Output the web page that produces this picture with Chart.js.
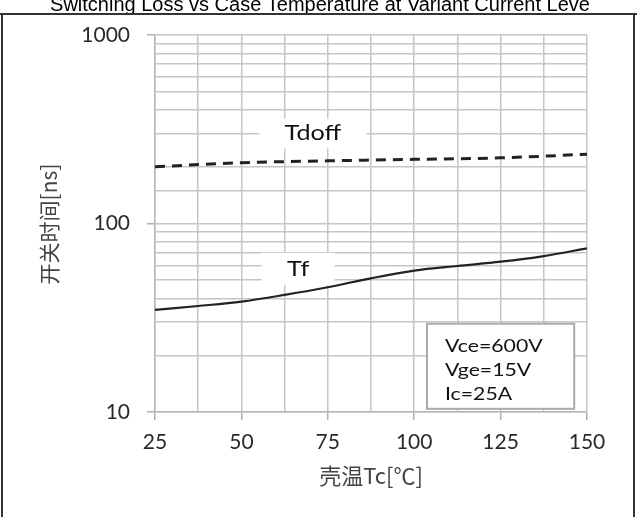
<!DOCTYPE html>
<html>
<head>
<meta charset="utf-8">
<script src="https://cdn.jsdelivr.net/npm/chart.js@4.4.1/dist/chart.umd.min.js"></script>
<style>
  html, body { margin: 0; padding: 0; background: #fff; }
  #wrap { width: 637px; height: 517px; position: relative; }
</style>
</head>
<body>
<div id="wrap"><canvas id="chart" width="637" height="517"></canvas></div>
<script>
// données
const chartTitle = 'Switching Loss vs Case Temperature at Variant Current Leve';
const tempsTf = [25, 37.5, 50, 62.5, 75, 87.5, 100, 112.5, 125, 137.5, 150];
const tfValues = [34.8, 36.5, 38.5, 41.8, 45.9, 51.2, 56.2, 59.5, 62.7, 67.2, 73.8];
const tempsTdoff = [25, 50, 75, 100, 125, 150];
const tdoffValues = [200, 210, 215, 219, 223, 233];
const xTickLabels = [25, 50, 75, 100, 125, 150];
const yTickLabels = [10, 100, 1000];
const conditions = ['Vce=600V', 'Vge=15V', 'Ic=25A'];

const gridColor = '#c6c6c6';
const textColor = '#2a2a2a';

function toPoints(xs, ys) {
    return xs.map((x, i) => ({ x: x, y: ys[i] }));
}

// --- cadre, titres, étiquettes des courbes ---
const decorPlugin = {
    id: 'decor',
    beforeDatasetsDraw(chart) {
        const ctx = chart.ctx;
        const x = chart.scales.x, y = chart.scales.y;
        // étiquettes avec fond blanc qui cache la grille
        const labels = [
            { text: 'Tdoff', vx: 70.7, vy: 300, w: 107, h: 30 },
            { text: 'Tf', vx: 66.4, vy: 57.5, w: 73, h: 32 }
        ];
        ctx.save();
        labels.forEach(l => {
            const px = x.getPixelForValue(l.vx);
            const py = y.getPixelForValue(l.vy);
            ctx.fillStyle = '#fff';
            ctx.fillRect(px - l.w / 2, py - l.h / 2, l.w, l.h);
            ctx.fillStyle = '#111';
            ctx.font = '21px Lato';
            ctx.textAlign = 'center';
            ctx.textBaseline = 'middle';
            ctx.translate(px, py);
            ctx.scale(1.2, 1);
            ctx.fillText(l.text, 0, 0);
            ctx.setTransform(1, 0, 0, 1, 0, 0);
        });
        ctx.restore();
    },
    afterDatasetsDraw(chart) {
        const ctx = chart.ctx;
        const x = chart.scales.x, y = chart.scales.y;
        ctx.save();
        // boîte des conditions
        const bx1 = x.getPixelForValue(103.7), bx2 = x.getPixelForValue(146.3);
        const by1 = y.getPixelForValue(29.4), by2 = y.getPixelForValue(10.4);
        ctx.fillStyle = '#fff';
        ctx.fillRect(bx1, by1, bx2 - bx1, by2 - by1);
        ctx.strokeStyle = '#aaa';
        ctx.lineWidth = 2;
        ctx.strokeRect(bx1, by1, bx2 - bx1, by2 - by1);
        ctx.fillStyle = '#111';
        ctx.font = '18px Lato';
        ctx.textAlign = 'left';
        ctx.textBaseline = 'middle';
        conditions.forEach((c, i) => {
            ctx.setTransform(1.18, 0, 0, 1, bx1 + 18, by1 + 22 + i * 24);
            ctx.fillText(c, 0, 0);
        });
        ctx.setTransform(1, 0, 0, 1, 0, 0);

        // titre du graphe (coupé en haut)
        ctx.fillStyle = '#000';
        ctx.font = '20px "Liberation Sans", Arial';
        ctx.textAlign = 'center';
        ctx.textBaseline = 'alphabetic';
        ctx.fillText(chartTitle, 320, 11);

        // cadre
        ctx.strokeStyle = '#333';
        ctx.lineWidth = 2;
        ctx.beginPath();
        ctx.moveTo(0, 14); ctx.lineTo(637, 14);
        ctx.moveTo(2, 14); ctx.lineTo(2, 517);
        ctx.moveTo(634, 14); ctx.lineTo(634, 517);
        ctx.stroke();

        // titres des axes
        ctx.fillStyle = '#444';
        ctx.font = '22px "Noto Sans CJK SC"';
        ctx.textAlign = 'center';
        ctx.textBaseline = 'middle';
        ctx.fillText('壳温Tc[℃]', 371, 476);
        ctx.font = '21px "Noto Sans CJK SC"';
        ctx.translate(49, 224);
        ctx.rotate(-Math.PI / 2);
        ctx.fillText('开关时间[ns]', 0, 0);
        ctx.restore();
    }
};

const ctxChart = document.getElementById('chart').getContext('2d');
new Chart(ctxChart, {
    type: 'line',
    data: {
        datasets: [{
            label: 'Tdoff',
            data: toPoints(tempsTdoff, tdoffValues),
            borderColor: '#222',
            borderWidth: 3,
            borderDash: [10, 7],
            pointRadius: 0,
            cubicInterpolationMode: 'monotone',
            fill: false
        }, {
            label: 'Tf',
            data: toPoints(tempsTf, tfValues),
            borderColor: '#222',
            borderWidth: 2.2,
            pointRadius: 0,
            cubicInterpolationMode: 'monotone',
            fill: false
        }]
    },
    options: {
        responsive: false,
        animation: false,
        layout: { padding: { top: 35, right: 50, bottom: 0, left: 0 } },
        plugins: { legend: { display: false }, tooltip: { enabled: false } },
        scales: {
            x: {
                type: 'linear',
                min: 25,
                max: 150,
                afterFit: s => { s.height = 105; },
                grid: {
                    color: gridColor,
                    lineWidth: 1.5,
                    tickLength: 8,
                    tickColor: c => xTickLabels.includes(c.tick && c.tick.value) ? '#b0b0b0' : 'rgba(0,0,0,0)'
                },
                border: { color: '#b8b8b8', width: 1.5 },
                ticks: {
                    stepSize: 12.5,
                    padding: 10,
                    color: textColor,
                    font: { family: 'Lato', size: 21 },
                    maxRotation: 0,
                    autoSkip: false,
                    callback: v => xTickLabels.includes(v) ? String(v) : ''
                }
            },
            y: {
                type: 'logarithmic',
                min: 10,
                max: 1000,
                afterFit: s => { s.width = 155; },
                grid: {
                    color: gridColor,
                    lineWidth: 1.5,
                    tickLength: 8,
                    tickColor: c => yTickLabels.includes(c.tick && c.tick.value) ? '#b0b0b0' : 'rgba(0,0,0,0)'
                },
                border: { color: '#b8b8b8', width: 1.5 },
                ticks: {
                    padding: 17,
                    color: textColor,
                    font: { family: 'Lato', size: 21 },
                    autoSkip: false,
                    callback: v => yTickLabels.includes(v) ? String(v) : ''
                }
            }
        }
    },
    plugins: [decorPlugin]
});
</script>
</body>
</html>
